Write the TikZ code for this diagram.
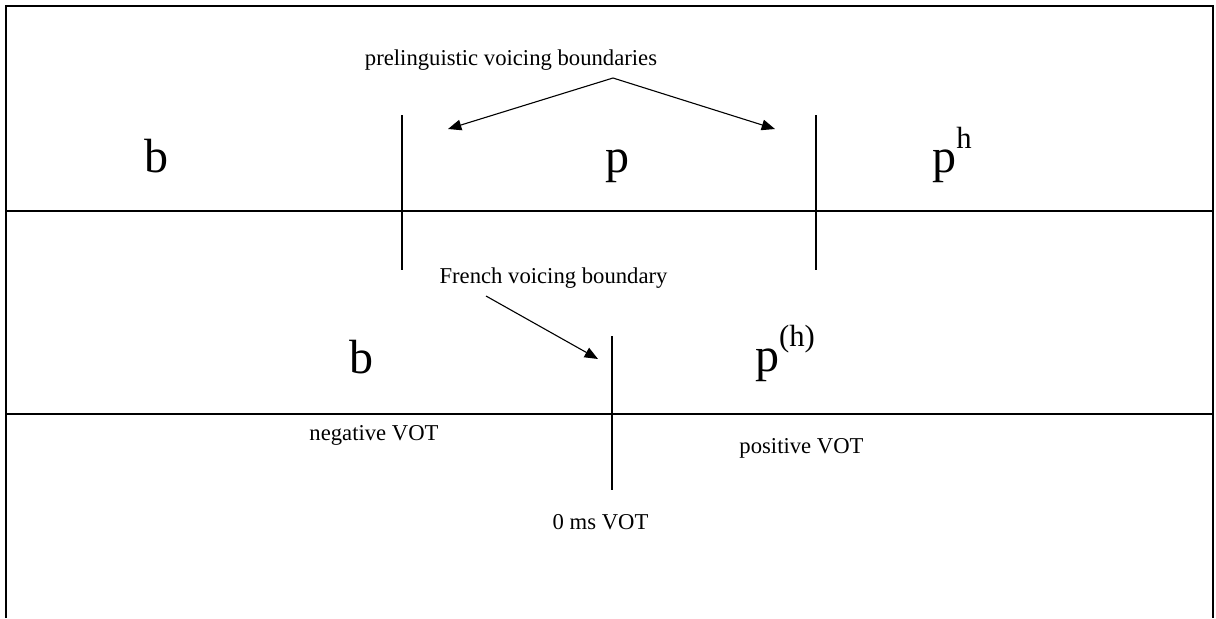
\documentclass[tikz,border=0pt]{standalone}
\usepackage{fontspec}
\setmainfont{Liberation Serif}
\usetikzlibrary{arrows.meta}
\begin{document}
\begin{tikzpicture}[x=0.75pt,y=-0.75pt,
  frame/.style={line width=1.5pt*0.75},
  rule/.style={line width=1.4pt*0.75},
  bound/.style={line width=1.1pt*0.75},
  pointer/.style={line width=1.1pt*0.75,-{Triangle[length=10pt,width=8pt]}},
  big/.style={anchor=base,inner sep=0pt,font=\fontsize{36}{36}\selectfont},
  lab/.style={anchor=base,inner sep=0pt,font=\fontsize{17}{20}\selectfont}]
\useasboundingbox (0,0) rectangle (1216,618);
% frame
\coordinate (fbl) at (6,618);
\coordinate (ftl) at (6,6);
\coordinate (ftr) at (1213,6);
\coordinate (fbr) at (1213,618);
\draw[frame] (fbl) -- (ftl) -- (ftr) -- (fbr);
% horizontal rules
\coordinate (h1l) at (6,211); \coordinate (h1r) at (1213,211);
\coordinate (h2l) at (6,414); \coordinate (h2r) at (1213,414);
\draw[rule] (h1l) -- (h1r);
\draw[rule] (h2l) -- (h2r);
% boundary lines
\coordinate (v1t) at (402,115); \coordinate (v1b) at (402,270);
\coordinate (v2t) at (816,115); \coordinate (v2b) at (816,270);
\coordinate (v3t) at (612,336); \coordinate (v3b) at (612,490);
\draw[bound] (v1t) -- (v1b);
\draw[bound] (v2t) -- (v2b);
\draw[bound] (v3t) -- (v3b);
% labels
\node[lab] (prel) at (511,65) {prelinguistic voicing boundaries};
\node[lab] (french) at (553.5,283) {French voicing boundary};
\node[lab] (neg) at (374,440) {negative VOT};
\node[lab] (pos) at (801.5,453) {positive VOT};
\node[lab] (zero) at (600.5,529) {0 ms VOT};
% letters
\node[big] (b1) at (156.5,172) {b};
\node[big] (p1) at (617.5,172) {p};
\node[big] (ph1) at (952,172) {p\raisebox{18pt}{\fontsize{23}{23}\selectfont h}};
\node[big] (b2) at (361.5,373) {b};
\node[big] (ph2) at (785,371) {p\raisebox{18.5pt}{\fontsize{23}{23}\selectfont (h)}};
% arrows
\coordinate (apex) at (613,78);
\coordinate (tipl) at (448,129);
\coordinate (tipr) at (775,129);
\coordinate (fstart) at (486,296);
\coordinate (ftip) at (598,359);
\draw[pointer] (apex) -- (tipl);
\draw[pointer] (apex) -- (tipr);
\draw[pointer] (fstart) -- (ftip);
\end{tikzpicture}
\end{document}
